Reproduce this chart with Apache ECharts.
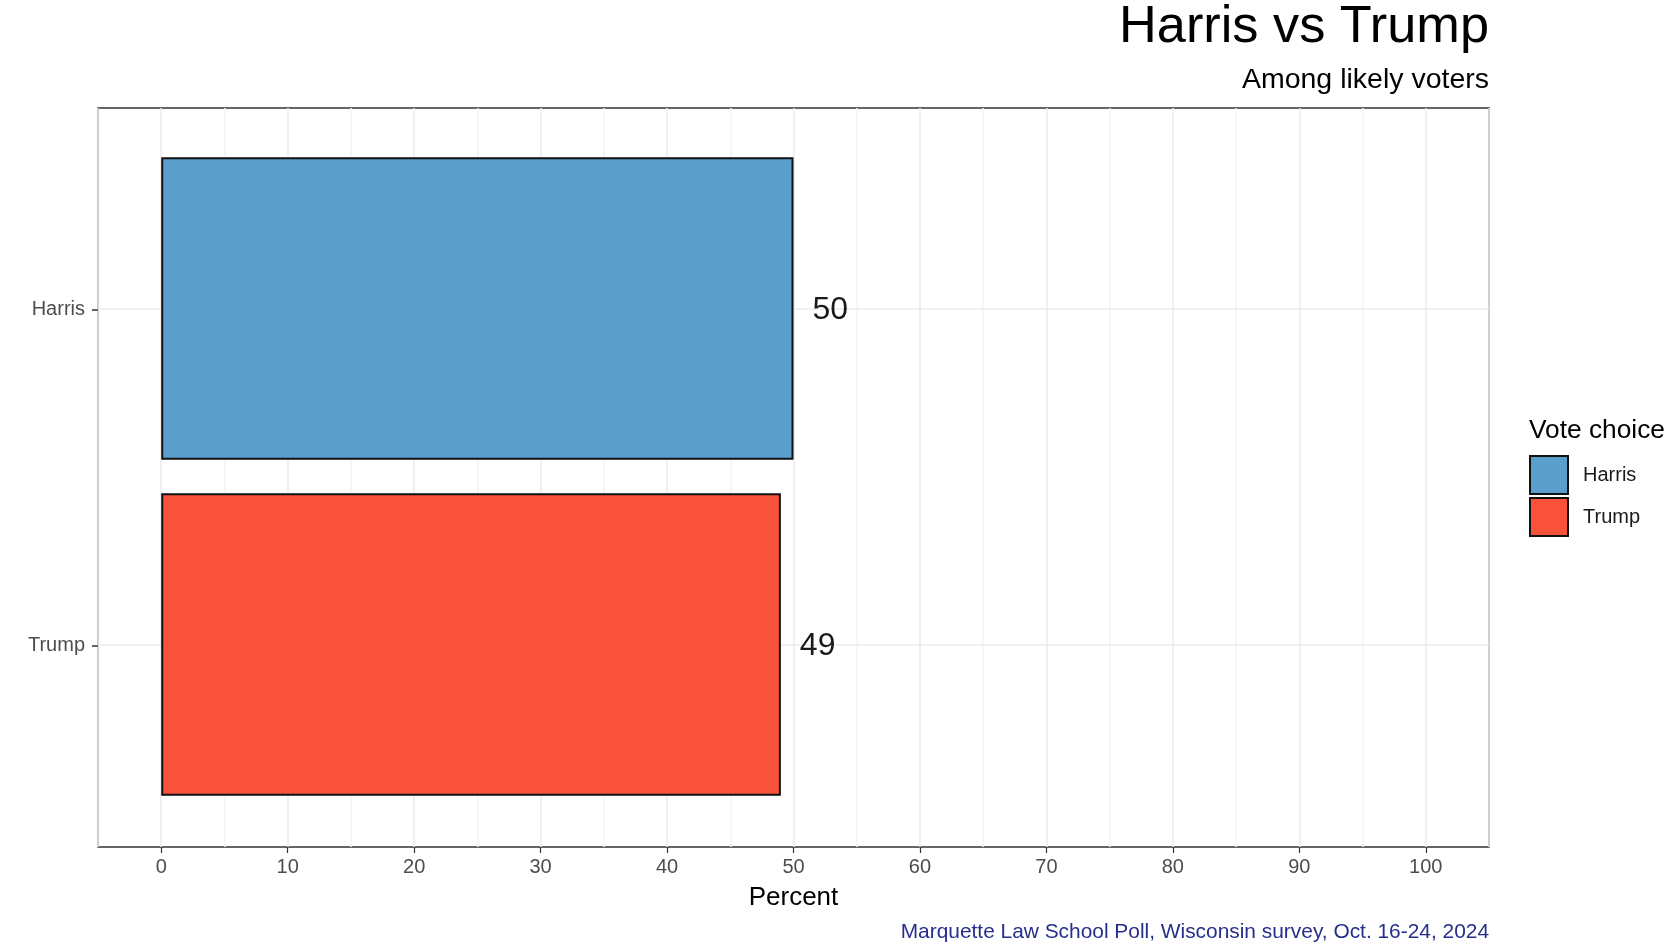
<!DOCTYPE html>
<html>
  <head>
    <meta charset="utf-8" />
    <title>Harris vs Trump</title>
    <script src="https://cdn.jsdelivr.net/npm/echarts@6/dist/echarts.min.js"></script>
    <style>
      html, body {
        margin: 0;
        padding: 0;
        background-color: #ffffff;
      }
      #box {
        width: 1680px;
        height: 950px;
      }
    </style>
  </head>
  <body>
    <div id="box"></div>
    <script>
      // data
      var categories = ['Harris', 'Trump'];
      var shares = [50, 49];
      var xTicks = [0, 10, 20, 30, 40, 50, 60, 70, 80, 90, 100];
      var barColors = ['#5a9ecb', '#f9523b'];

      var font = "'Liberation Sans', Arial, Helvetica, sans-serif";
      // panel (frame) and the bar band area inside it; rows 0.6 of a step from the frame
      var panel = { left: 98, width: 1391, top: 108, height: 739 };
      var rows = { top: 140.5, height: 672 };

      // one bar series per candidate, stacked so each stays centred on its row
      var series = categories.map(function (name, i) {
        return {
          name: name,
          type: 'bar',
          xAxisIndex: 2,
          yAxisIndex: 1,
          stack: 'vote',
          barCategoryGap: '10%',
          data: shares.map(function (v, j) { return j === i ? v : '-'; }),
          itemStyle: {
            color: barColors[i],
            borderColor: '#111111',
            borderWidth: 2
          },
          label: {
            show: true,
            position: 'right',
            distance: 19,
            offset: [0, 2],
            fontSize: 32,
            color: '#1a1a1a',
            fontFamily: font
          },
          z: 2
        };
      });
      // horizontal grid lines through the rows, kept under the bars
      series[0].markLine = {
        silent: true,
        z: 1,
        symbol: 'none',
        label: { show: false },
        lineStyle: { color: '#ebebeb', width: 1.5, type: 'solid' },
        data: categories.map(function (c, i) { return { yAxis: i }; })
      };

      var myChart = echarts.init(document.getElementById('box'));
      var option = {
        animation: false,
        textStyle: { fontFamily: font },
        title: [
          {
            text: 'Harris vs Trump',
            right: 191,
            top: 2,
            padding: 0,
            textStyle: { fontSize: 52.3, fontWeight: 'normal', color: '#000000' }
          },
          {
            text: 'Among likely voters',
            right: 191,
            top: 66,
            padding: 0,
            textStyle: { fontSize: 28.5, fontWeight: 'normal', color: '#000000' }
          },
          {
            text: 'Vote choice',
            left: 1529,
            top: 418,
            padding: 0,
            textStyle: { fontSize: 26.3, fontWeight: 'normal', color: '#000000' }
          },
          {
            text: 'Marquette Law School Poll, Wisconsin survey, Oct. 16-24, 2024',
            right: 191,
            top: 922,
            padding: 0,
            textStyle: { fontSize: 20.9, fontWeight: 'normal', color: '#262e8c' }
          }
        ],
        legend: {
          data: categories,
          orient: 'vertical',
          left: 1529,
          top: 455,
          padding: 0,
          icon: 'rect',
          itemWidth: 38,
          itemHeight: 38,
          itemGap: 2,
          itemStyle: { borderColor: '#111111', borderWidth: 2 },
          textStyle: { fontSize: 20, color: '#1a1a1a', padding: [0, 0, 0, 10] }
        },
        grid: [
          {
            left: panel.left, width: panel.width, top: panel.top, height: panel.height,
            show: true, borderColor: '#333333', borderWidth: 1.5,
            outerBoundsMode: 'none'
          },
          {
            left: panel.left, width: panel.width, top: rows.top, height: rows.height,
            show: false,
            outerBoundsMode: 'none'
          }
        ],
        xAxis: [
          {
            // panel grid lines every 5, minor ones lighter
            gridIndex: 0,
            type: 'value',
            min: -5,
            max: 105,
            interval: 5,
            axisLine: { show: false, onZero: false },
            axisTick: { show: false },
            axisLabel: { show: false },
            splitLine: {
              show: true,
              lineStyle: { color: ['#f3f3f3', '#ebebeb'], width: 1.5 }
            }
          },
          {
            // ticks, labels and title
            gridIndex: 0,
            type: 'value',
            position: 'bottom',
            min: -5,
            max: 105,
            axisLine: { show: false, onZero: false },
            axisTick: {
              show: true,
              customValues: xTicks,
              length: 6,
              lineStyle: { color: '#333333', width: 1.2 }
            },
            axisLabel: {
              show: true,
              customValues: xTicks,
              margin: 10,
              fontSize: 20,
              color: '#4d4d4d'
            },
            splitLine: { show: false },
            name: 'Percent',
            nameLocation: 'middle',
            nameGap: 38,
            nameTextStyle: { fontSize: 26, color: '#000000' }
          },
          {
            // bar scale
            gridIndex: 1,
            type: 'value',
            min: -5,
            max: 105,
            axisLine: { show: false, onZero: false },
            show: false
          }
        ],
        yAxis: [
          {
            // row ticks and labels on the panel, row i sits at value i
            gridIndex: 0,
            type: 'value',
            position: 'left',
            inverse: true,
            min: -0.6,
            max: 1.6,
            axisLine: { show: false, onZero: false },
            axisTick: {
              show: true,
              customValues: [0, 1],
              length: 6,
              lineStyle: { color: '#333333', width: 1.5 }
            },
            axisLabel: {
              show: true,
              customValues: [0, 1],
              margin: 13,
              fontSize: 20,
              color: '#4d4d4d',
              formatter: function (v) { return categories[Math.round(v)]; }
            },
            splitLine: { show: false }
          },
          {
            gridIndex: 1,
            type: 'category',
            data: categories,
            inverse: true,
            axisLine: { show: false, onZero: false },
            show: false
          }
        ],
        series: series
      };
      myChart.setOption(option);
    </script>
  </body>
</html>
